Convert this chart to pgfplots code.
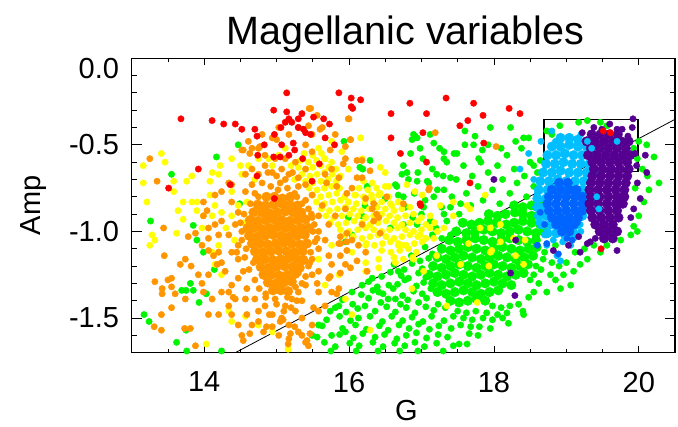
\documentclass[border=0pt]{standalone}
\usepackage{fontspec}
\setmainfont{Liberation Sans}
\usepackage{pgfplots}
\pgfplotsset{compat=1.18}
\definecolor{cred}{RGB}{255,0,0}
\definecolor{corange}{RGB}{255,150,0}
\definecolor{cyellow}{RGB}{255,255,0}
\definecolor{cgreen}{RGB}{0,245,0}
\definecolor{clblue}{RGB}{0,190,255}
\definecolor{cblue}{RGB}{0,100,255}
\definecolor{cpurple}{RGB}{85,0,145}
\pgfplotsset{
  dot/.style={only marks, mark=*, mark size=3.2bp, color=#1, mark options={draw=#1, fill=#1, line width=0.4bp}},
  core/.style={only marks, mark=*, mark size=4.8bp, color=#1, mark options={draw=#1, fill=#1, line width=0.4bp}},
}
\begin{document}
\begin{tikzpicture}
\begin{axis}[
  at={(0,0)}, anchor=south west,
  scale only axis, width=543.3bp, height=294.5bp,
  xmin=13, xmax=20.5, ymin=-1.7, ymax=0,
  axis line style={line width=1.1bp, black},
  xtick={14,16,18,20}, xticklabels={14,16,18,20},
  minor xtick={13,13.5,14.5,15,15.5,16.5,17,17.5,18.5,19,19.5,20.5},
  ytick={-1.5,-1,-0.5}, yticklabels={-1.5,-1.0,-0.5},
  minor ytick={-1.6,-1.4,-1.3,-1.2,-1.1,-0.9,-0.8,-0.7,-0.6,-0.4,-0.3,-0.2,-0.1},
  extra y ticks={0}, extra y tick labels={0.0},
  extra y tick style={yticklabel style={yshift=-10bp}},
  tick align=inside,
  xtick style={/pgfplots/major tick length=7bp,/pgfplots/minor tick length=3.5bp, line width=0.8bp, black},
  ytick style={/pgfplots/major tick length=10.5bp,/pgfplots/minor tick length=5.5bp, line width=0.8bp, black},
  tick label style={font=\fontsize{29bp}{34bp}\selectfont},
  xticklabel style={inner sep=0pt, anchor=north, yshift=-19bp},
  yticklabel style={inner sep=0pt, anchor=east, xshift=-12.5bp},
  title={Magellanic variables},
  title style={font=\fontsize{39.5bp}{44bp}\selectfont, at={(axis description cs:0.5,1)}, anchor=base, yshift=8bp, xshift=2bp},
  xlabel={G}, ylabel={Amp},
  xlabel style={font=\fontsize{29bp}{34bp}\selectfont, at={(axis description cs:0.5055,-0.195)}, anchor=center},
  ylabel style={font=\fontsize{29bp}{34bp}\selectfont, at={(axis description cs:-0.181,0.5)}, anchor=center},
]
% ---------------- green core
\addplot[core=cgreen] coordinates {
(18.28,-0.85) (18.40,-0.86) (18.52,-0.85) (18.63,-0.84)
(17.93,-0.90) (18.05,-0.91) (18.16,-0.90) (18.29,-0.89) (18.40,-0.90) (18.52,-0.91) (18.64,-0.90)
(17.57,-0.95) (17.69,-0.96) (17.80,-0.95) (17.92,-0.94) (18.04,-0.95) (18.17,-0.96) (18.28,-0.95) (18.40,-0.94) (18.52,-0.95) (18.64,-0.96)
(17.48,-1.00) (17.62,-1.01) (17.74,-1.00) (17.86,-0.99) (17.98,-1.00) (18.10,-1.01) (18.22,-1.00) (18.34,-0.99) (18.46,-1.00) (18.58,-1.01) (18.69,-1.00)
(17.38,-1.05) (17.50,-1.06) (17.62,-1.05) (17.74,-1.04) (17.86,-1.05) (17.98,-1.06) (18.10,-1.05) (18.22,-1.04) (18.34,-1.05) (18.46,-1.06) (18.58,-1.05)
(17.28,-1.10) (17.40,-1.11) (17.52,-1.10) (17.64,-1.09) (17.76,-1.10) (17.88,-1.11) (18.00,-1.10) (18.12,-1.09) (18.24,-1.10) (18.36,-1.11) (18.48,-1.10) (18.59,-1.09)
(17.22,-1.15) (17.34,-1.16) (17.46,-1.15) (17.58,-1.14) (17.70,-1.15) (17.82,-1.16) (17.94,-1.15) (18.06,-1.14) (18.18,-1.15) (18.30,-1.16) (18.42,-1.15) (18.54,-1.14)
(17.16,-1.20) (17.28,-1.21) (17.40,-1.20) (17.52,-1.19) (17.64,-1.20) (17.76,-1.21) (17.88,-1.20) (18.00,-1.19) (18.12,-1.20) (18.24,-1.21) (18.36,-1.20) (18.47,-1.19)
(17.10,-1.25) (17.22,-1.26) (17.34,-1.25) (17.46,-1.24) (17.58,-1.25) (17.70,-1.26) (17.82,-1.25) (17.94,-1.24) (18.06,-1.25) (18.18,-1.26) (18.30,-1.25) (18.41,-1.24)
(17.16,-1.30) (17.28,-1.31) (17.40,-1.30) (17.52,-1.29) (17.64,-1.30) (17.76,-1.31) (17.88,-1.30) (18.00,-1.29) (18.12,-1.30) (18.24,-1.31)
(17.22,-1.35) (17.34,-1.36) (17.46,-1.35) (17.58,-1.34) (17.70,-1.35) (17.82,-1.36) (17.94,-1.35) (18.06,-1.34)
(17.40,-1.40) (17.52,-1.41) (17.64,-1.40) (17.76,-1.39) (17.88,-1.40)
};
% ---------------- green scatter
\addplot[dot=cgreen] coordinates {
(13.17,-1.48) (13.24,-1.52) (13.26,-0.94) (13.55,-0.67) (13.62,-1.64) (13.69,-1.34) (13.75,-1.34) (13.75,-1.57) (13.76,-1.69) (13.81,-1.30)
(13.85,-0.965) (13.85,-1.34) (13.90,-1.05) (13.93,-1.41) (13.99,-1.12) (14.03,-1.36) (14.14,-1.22) (14.17,-0.57) (14.24,-1.69) (14.47,-0.50) (14.49,-0.84)
(15.49,-1.60) (15.58,-1.54) (15.74,-1.46) (15.76,-1.60) (15.86,-1.43) (15.95,-1.58) (16.13,-1.50) (16.22,-1.43) (16.04,-1.35) (16.18,-1.31)
(16.32,-1.27) (16.41,-1.35) (16.55,-1.31) (16.64,-1.39) (16.68,-1.23) (15.95,-1.06) (16.04,-1.02) (15.99,-0.92) (16.18,-0.91) (16.22,-0.85)
(16.36,-0.85) (16.50,-0.81) (16.64,-0.73) (16.68,-0.79) (16.73,-0.67) (15.93,-0.48) (16.19,-0.64) (16.29,-0.59) (16.15,-0.63) (16.25,-0.74)
(16.57,-0.98) (16.75,-0.96) (16.94,-0.96) (17.12,-0.94) (17.31,-0.90) (17.40,-0.86) (17.54,-0.84) (16.66,-0.74) (16.75,-0.80) (16.80,-0.66)
(16.94,-0.71) (17.08,-0.71) (17.21,-0.67) (17.40,-0.69) (17.31,-0.76) (17.17,-0.80) (17.03,-0.86) (16.87,-0.47) (16.91,-0.45) (17.17,-0.49)
(17.31,-0.54) (17.49,-0.55)
(17.05,-1.09) (17.15,-1.13)
(16.86,-1.14) (16.98,-1.17) (17.10,-1.155)
(16.62,-1.19) (16.76,-1.22) (16.87,-1.185) (17.01,-1.215)
(16.45,-1.26) (16.57,-1.235) (16.72,-1.255) (16.82,-1.27) (16.96,-1.24) (17.06,-1.265)
(16.27,-1.29) (16.39,-1.32) (16.67,-1.305) (16.77,-1.28) (16.93,-1.315) (17.03,-1.295)
(16.17,-1.365) (16.33,-1.34) (16.47,-1.36) (16.61,-1.33) (16.74,-1.37) (16.89,-1.345) (17.01,-1.36) (17.13,-1.33)
(15.91,-1.395) (16.05,-1.42) (16.27,-1.385) (16.44,-1.41) (16.54,-1.39) (16.71,-1.42) (16.81,-1.395) (16.96,-1.41) (17.07,-1.385) (17.23,-1.42)
(15.81,-1.44) (15.96,-1.465) (16.12,-1.445) (16.36,-1.46) (16.52,-1.435) (16.64,-1.465) (16.79,-1.44) (16.91,-1.47) (17.06,-1.435) (17.17,-1.455) (17.33,-1.44)
(15.69,-1.51) (15.87,-1.49) (16.02,-1.515) (16.29,-1.49) (16.46,-1.52) (16.59,-1.49) (16.74,-1.515) (16.87,-1.495) (17.02,-1.52) (17.14,-1.49) (17.31,-1.515) (17.44,-1.49)
(15.63,-1.545) (15.91,-1.56) (16.09,-1.54) (16.24,-1.565) (16.42,-1.545) (16.54,-1.57) (16.69,-1.54) (16.83,-1.56) (16.96,-1.535) (17.11,-1.565) (17.24,-1.545) (17.41,-1.56) (17.54,-1.54)
(15.56,-1.61) (15.87,-1.595) (16.06,-1.615) (16.19,-1.59) (16.36,-1.61) (16.49,-1.595) (16.66,-1.62) (16.79,-1.60) (16.93,-1.585) (17.07,-1.615) (17.23,-1.595) (17.36,-1.61) (17.66,-1.59)
(15.66,-1.64) (15.81,-1.665) (16.01,-1.645) (16.14,-1.66) (16.33,-1.64) (16.47,-1.665) (16.63,-1.645) (16.77,-1.66) (16.91,-1.64) (17.04,-1.665) (17.21,-1.645) (17.44,-1.66)
(15.75,-1.69) (16.10,-1.69) (16.40,-1.69) (16.70,-1.69) (16.95,-1.69) (17.30,-1.69)
(17.98,-1.43) (18.10,-1.44) (18.22,-1.43) (18.34,-1.42) (17.50,-1.46) (17.62,-1.47) (17.75,-1.46) (17.90,-1.47) (18.05,-1.48) (18.18,-1.47)
(18.40,-1.46) (17.58,-1.50) (17.70,-1.51) (17.85,-1.50) (17.98,-1.51) (18.12,-1.50) (17.68,-1.55) (17.80,-1.55) (17.95,-1.56) (18.20,-1.53)
(17.78,-1.60) (17.52,-1.65) (17.63,-1.65) (18.55,-1.35) (18.41,-1.48) (18.73,-1.35) (18.92,-1.33) (19.06,-1.31) (18.96,-1.25) (19.10,-1.23)
(19.19,-1.19) (19.29,-1.16) (19.47,-1.12) (19.56,-1.08) (19.75,-1.05) (19.89,-1.02) (19.93,-0.97) (20.00,-0.91) (20.07,-0.83) (20.14,-0.76)
(20.28,-0.72) (20.21,-0.57) (20.11,-0.50) (18.50,-1.28) (18.62,-1.30) (18.48,-1.38)
(18.70,-1.12) (18.80,-1.18) (18.90,-1.20) (18.78,-1.25) (18.65,-1.22) (18.85,-1.28) (19.00,-1.18) (19.12,-1.12) (19.25,-1.10) (19.38,-1.08)
(18.72,-1.02) (18.85,-1.08) (18.68,-1.16) (18.58,-1.20) (18.55,-1.25)
(20.00,-0.48) (19.93,-0.52) (19.98,-0.58) (20.05,-0.64) (19.95,-0.75) (20.12,-0.68) (19.98,-1.00)
(19.56,-0.39) (19.47,-0.37) (19.29,-0.36) (19.17,-0.37) (18.91,-0.39) (18.73,-0.42) (18.80,-0.44) (18.64,-0.59) (18.55,-0.62) (18.41,-0.46)
(18.23,-0.40) (17.74,-0.45) (17.72,-0.50) (17.84,-0.53) (17.79,-0.58) (17.31,-0.58) (16.94,-0.46) (16.89,-0.44) (17.95,-0.40) (17.60,-0.42)
(16.75,-0.62) (16.82,-0.70) (16.90,-0.78) (16.95,-0.66) (17.02,-0.58) (17.10,-0.72) (17.05,-0.82) (17.15,-0.64) (17.22,-0.76) (17.28,-0.86)
(17.30,-0.68) (17.35,-0.60) (17.42,-0.80) (17.48,-0.70) (17.52,-0.90) (17.58,-0.62) (17.62,-0.78) (17.68,-0.85) (17.70,-0.68) (17.78,-0.74)
(17.82,-0.60) (17.85,-0.82) (17.92,-0.66) (17.98,-0.76) (18.05,-0.62) (18.08,-0.84) (18.12,-0.70) (18.18,-0.56) (18.22,-0.78) (18.28,-0.64)
(18.32,-0.72) (18.38,-0.52) (18.42,-0.68) (18.45,-0.80) (18.50,-0.60) (18.55,-0.74) (18.60,-0.66) (18.48,-0.46) (18.30,-0.48) (18.10,-0.52)
(17.92,-0.50) (17.60,-0.50) (17.45,-0.55) (17.25,-0.52) (17.12,-0.44) (16.98,-0.52) (16.85,-0.55) (16.78,-0.86) (16.88,-0.92) (17.00,-0.90)
(17.20,-0.98) (17.35,-0.94) (17.40,-1.02) (17.28,-1.04) (17.15,-1.02)
};
% ---------------- yellow dense band
\addplot[dot=cyellow] coordinates {
(15.38,-0.55) (15.50,-0.56) (15.62,-0.55)
(15.33,-0.59) (15.44,-0.60) (15.55,-0.59) (15.66,-0.58) (15.76,-0.60)
(15.30,-0.63) (15.40,-0.64) (15.50,-0.63) (15.61,-0.62) (15.72,-0.63) (15.82,-0.64)
(15.35,-0.67) (15.46,-0.68) (15.56,-0.67) (15.66,-0.66) (15.77,-0.67) (15.88,-0.68)
(15.40,-0.71) (15.50,-0.72) (15.61,-0.71) (15.71,-0.70) (15.82,-0.71) (16.20,-0.71) (16.32,-0.72)
(15.45,-0.75) (15.56,-0.76) (15.66,-0.75) (15.76,-0.74) (15.87,-0.75) (16.14,-0.75) (16.26,-0.76) (16.38,-0.75) (16.50,-0.74)
(15.50,-0.79) (15.61,-0.80) (15.72,-0.79) (15.83,-0.78) (15.94,-0.80) (16.08,-0.79) (16.20,-0.80) (16.31,-0.79) (16.43,-0.78) (16.55,-0.80)
(15.55,-0.83) (15.66,-0.84) (15.77,-0.83) (15.88,-0.82) (15.99,-0.83) (16.10,-0.84) (16.22,-0.83) (16.33,-0.82) (16.45,-0.83) (16.57,-0.84) (16.68,-0.83)
(15.62,-0.87) (15.73,-0.88) (15.84,-0.87) (15.95,-0.86) (16.06,-0.87) (16.17,-0.88) (16.28,-0.87) (16.39,-0.86) (16.50,-0.87) (16.62,-0.88) (16.73,-0.87) (16.84,-0.86)
(15.68,-0.91) (15.79,-0.92) (15.90,-0.91) (16.01,-0.90) (16.12,-0.91) (16.23,-0.92) (16.34,-0.91) (16.45,-0.90) (16.56,-0.91) (16.67,-0.92) (16.78,-0.91) (16.89,-0.90) (17.00,-0.92) (17.12,-0.91)
(15.74,-0.95) (15.85,-0.96) (15.96,-0.95) (16.07,-0.94) (16.18,-0.95) (16.29,-0.96) (16.40,-0.95) (16.51,-0.94) (16.62,-0.95) (16.73,-0.96) (16.84,-0.95) (16.95,-0.94) (17.06,-0.96) (17.18,-0.95)
(15.88,-0.99) (16.00,-1.00) (16.12,-0.99) (16.23,-0.98) (16.34,-0.99) (16.45,-1.00) (16.56,-0.99) (16.67,-0.98) (16.78,-0.99) (16.89,-1.00) (17.00,-0.99) (17.12,-0.98) (17.22,-1.00)
(16.06,-1.03) (16.18,-1.04) (16.29,-1.03) (16.40,-1.02) (16.51,-1.03) (16.62,-1.04) (16.73,-1.03) (16.84,-1.02) (16.95,-1.03) (17.06,-1.04)
(16.24,-1.07) (16.35,-1.08) (16.46,-1.07) (16.57,-1.06) (16.68,-1.07) (16.79,-1.08) (16.90,-1.07) (17.01,-1.06)
(16.45,-1.11) (16.58,-1.12) (16.70,-1.11) (16.82,-1.10) (16.93,-1.12)
(16.62,-1.15) (16.75,-1.16) (16.88,-1.15)
};
% ---------------- yellow scatter
\addplot[dot=cyellow] coordinates {
(13.16,-0.62) (13.16,-0.72) (13.21,-0.83) (13.41,-0.55) (13.46,-0.60) (13.58,-0.71) (13.58,-0.77) (13.76,-0.71) (13.83,-0.68) (13.71,-0.83)
(13.83,-0.83) (13.90,-0.83) (13.64,-0.88) (13.71,-0.93) (13.28,-1.02) (13.32,-1.05) (13.25,-1.08) (13.62,-1.01) (13.97,-0.98) (13.90,-0.88)
(14.11,-0.66) (14.08,-0.71) (14.20,-0.67) (14.22,-0.62) (14.38,-0.58) (14.50,-0.62) (14.08,-0.79) (14.15,-0.85) (13.99,-0.91) (14.11,-0.91)
(14.24,-0.89) (14.38,-0.91) (14.47,-0.85) (14.59,-0.83) (14.38,-0.77) (14.52,-0.67) (14.61,-0.62) (14.75,-0.58) (14.89,-0.58) (15.03,-0.56)
(15.12,-0.52) (14.94,-0.62) (14.20,-1.08) (14.11,-1.12) (14.15,-1.19) (14.24,-1.25) (14.34,-1.46) (14.38,-1.52) (14.75,-1.54) (14.57,-1.49)
(14.94,-1.58) (16.29,-1.57) (14.03,-1.65) (16.16,-0.46) (16.18,-0.58) (16.43,-0.63) (16.55,-0.74) (16.50,-0.66) (16.09,-0.79) (16.41,-0.79)
(16.59,-0.85) (15.99,-0.64) (15.90,-0.54) (15.76,-0.48) (15.58,-0.52) (15.67,-0.58) (15.58,-1.16) (15.76,-1.08) (15.95,-1.02) (16.04,-1.12)
(16.23,-1.08) (16.23,-1.18) (16.41,-1.16) (16.68,-1.08) (15.86,-1.25) (15.67,-1.31) (16.23,-1.23) (16.41,-1.21) (16.64,-1.18) (15.95,-1.39)
(16.04,-1.48) (16.80,-0.73) (16.91,-0.77) (17.01,-0.79) (17.26,-0.85) (17.44,-0.83) (17.63,-0.85) (17.67,-0.87) (17.88,-0.79) (17.17,-1.04)
(17.31,-0.98) (17.44,-0.91) (17.65,-1.07) (17.81,-0.98) (17.95,-0.98) (18.09,-0.96) (17.97,-1.11) (18.09,-1.06) (18.30,-1.14) (18.43,-1.05)
(18.41,-1.19) (17.77,-1.41) (17.35,-1.43) (16.87,-1.33) (16.89,-1.16) (17.03,-1.23) (16.75,-1.08) (16.98,-1.02) (17.21,-1.14) (17.54,-1.19)
(17.93,-1.20) (17.95,-1.12) (18.27,-1.04) (14.70,-0.70) (15.20,-0.62) (15.25,-0.70) (14.30,-0.98) (14.42,-1.05) (14.55,-0.95) (15.16,-1.68)
};
% ---------------- orange core
\addplot[core=corange] coordinates {
(14.86,-0.80) (14.97,-0.80) (15.08,-0.81) (15.19,-0.80)
(14.74,-0.845) (14.85,-0.85) (14.96,-0.845) (15.07,-0.84) (15.18,-0.845) (15.29,-0.85)
(14.68,-0.89) (14.79,-0.89) (14.90,-0.895) (15.01,-0.89) (15.12,-0.885) (15.23,-0.89) (15.34,-0.89)
(14.63,-0.935) (14.74,-0.94) (14.85,-0.935) (14.96,-0.93) (15.07,-0.935) (15.18,-0.94) (15.29,-0.935) (15.40,-0.93)
(14.60,-0.98) (14.68,-0.98) (14.79,-0.985) (14.90,-0.98) (15.01,-0.975) (15.12,-0.98) (15.23,-0.985) (15.34,-0.98) (15.44,-0.98)
(14.62,-1.025) (14.73,-1.03) (14.84,-1.025) (14.95,-1.02) (15.06,-1.025) (15.17,-1.03) (15.28,-1.025) (15.39,-1.02)
(14.66,-1.07) (14.77,-1.07) (14.88,-1.075) (14.99,-1.07) (15.10,-1.065) (15.21,-1.07) (15.32,-1.075) (15.42,-1.07)
(14.70,-1.115) (14.81,-1.12) (14.92,-1.115) (15.03,-1.11) (15.14,-1.115) (15.25,-1.12) (15.36,-1.115)
(14.73,-1.16) (14.84,-1.16) (14.95,-1.165) (15.06,-1.16) (15.17,-1.155) (15.28,-1.16) (15.37,-1.165)
(14.78,-1.205) (14.89,-1.21) (15.00,-1.205) (15.11,-1.20) (15.22,-1.205) (15.32,-1.21)
(14.82,-1.25) (14.93,-1.25) (15.04,-1.255) (15.15,-1.25) (15.26,-1.245)
(14.88,-1.295) (14.99,-1.30) (15.10,-1.295) (15.21,-1.29)
(14.95,-1.34) (15.06,-1.34) (15.16,-1.345)
};
% ---------------- orange scatter
\addplot[dot=corange] coordinates {
(13.25,-0.58) (13.35,-0.71) (13.44,-0.98) (13.45,-1.14) (13.32,-1.29) (13.50,-1.28) (13.55,-1.27) (13.42,-1.33) (13.42,-1.36) (13.55,-1.32)
(13.60,-1.36) (13.55,-1.44) (13.41,-1.48) (13.31,-1.55) (13.41,-1.57) (13.67,-1.19) (13.74,-1.16) (13.82,-1.20) (13.74,-1.39) (13.73,-1.56)
(13.81,-1.56) (13.88,-1.66) (13.78,-1.03) (13.88,-1.01) (13.99,-0.83) (13.99,-0.91) (14.04,-0.88) (13.97,-1.08) (14.06,-1.11) (14.13,-1.14)
(14.20,-1.12) (14.18,-1.19) (14.24,-1.18) (14.29,-1.23) (13.92,-1.25) (13.97,-1.30) (14.06,-1.25) (13.99,-1.35) (14.11,-1.39) (14.06,-1.48)
(14.20,-1.48) (14.24,-1.35) (14.34,-1.35) (14.34,-1.43) (14.38,-1.31) (14.43,-1.39) (14.38,-1.48) (14.47,-1.54) (14.52,-1.60) (14.66,-1.54)
(14.59,-1.48) (14.75,-1.52) (14.82,-1.58) (14.94,-1.55) (15.03,-1.60) (15.17,-1.54) (15.17,-1.62) (15.30,-1.58) (15.40,-1.64) (15.44,-1.66)
(15.35,-1.50) (15.49,-1.54) (15.58,-1.46) (15.67,-1.43) (15.58,-1.35) (15.76,-1.35) (15.86,-1.33) (15.72,-1.27) (15.58,-1.23) (15.76,-1.19)
(15.95,-1.19) (15.88,-1.14) (15.72,-1.14) (15.58,-1.10) (15.67,-1.05) (15.86,-1.07) (16.04,-1.05) (16.13,-1.08) (16.23,-1.12) (15.58,-1.00)
(15.72,-0.96) (15.81,-0.91) (15.95,-0.87) (15.58,-0.91) (15.63,-0.85) (15.49,-0.79) (15.40,-0.73) (15.30,-0.69) (15.40,-0.64) (15.26,-0.60)
(15.12,-0.58) (14.98,-0.58) (14.84,-0.56) (14.75,-0.52) (14.66,-0.52) (14.61,-0.48) (14.52,-0.53) (14.80,-0.44) (14.94,-0.46) (15.03,-0.40)
(15.17,-0.44) (15.30,-0.40) (15.44,-0.39) (15.49,-0.44) (15.40,-0.50) (15.49,-0.54) (15.47,-0.29) (15.56,-0.33) (15.63,-0.40) (15.81,-0.44)
(16.00,-0.35) (16.02,-0.47) (15.95,-0.58) (15.76,-0.64) (15.67,-0.67) (15.86,-0.69) (16.04,-0.75) (16.18,-0.69) (16.23,-0.81) (16.32,-0.87)
(16.41,-0.92) (16.18,-0.96) (14.38,-0.73) (14.34,-0.72) (14.24,-0.77) (14.38,-0.83) (14.47,-0.89) (14.24,-0.94) (14.15,-0.96) (14.06,-0.98)
(14.20,-1.02) (14.34,-1.02) (14.43,-0.96) (14.52,-1.00) (14.47,-1.08) (14.38,-1.12) (14.47,-1.16) (14.54,-1.23) (14.47,-1.27) (14.59,-1.33)
(14.57,-1.39) (14.70,-1.39) (14.84,-1.43) (14.98,-1.39) (15.12,-1.43) (15.21,-1.39) (15.30,-1.35) (15.40,-1.31) (15.49,-1.25) (15.49,-1.16)
(15.53,-1.06) (15.49,-0.92) (15.44,-0.87) (14.75,-1.46) (14.94,-1.48) (15.07,-1.50) (15.26,-1.46) (14.57,-0.77) (14.66,-0.73) (14.75,-0.67)
(14.94,-0.66) (15.07,-0.64) (15.17,-0.67) (14.84,-0.62) (14.66,-0.64) (14.57,-0.67) (14.15,-0.79) (14.06,-1.04)
(15.74,-1.26) (15.83,-1.36) (15.56,-1.30) (15.51,-1.44) (15.46,-1.59) (15.42,-1.63) (15.35,-1.60) (15.19,-1.59) (15.16,-1.65) (15.09,-1.51)
(15.28,-1.40) (15.88,-1.24) (16.02,-1.21) (16.11,-1.17) (15.97,-1.11) (16.25,-1.23) (16.34,-0.94) (16.43,-1.01) (15.97,-1.01) (15.88,-1.07)
(14.54,-1.63) (14.63,-1.59) (14.86,-1.55) (14.40,-1.38)
(15.45,-0.29) (15.99,-0.35) (15.60,-0.41) (16.02,-0.47) (15.95,-0.51) (16.11,-0.59) (16.18,-0.59) (15.74,-0.53) (15.92,-0.61) (16.29,-0.65)
(16.11,-0.69) (16.34,-0.84) (15.97,-0.78) (15.69,-0.72) (15.83,-0.74) (16.38,-0.90) (16.52,-0.80) (16.75,-0.84) (17.11,-0.75) (17.19,-0.43)
(15.88,-1.03) (15.97,-1.06) (14.54,-0.53) (14.63,-0.55) (14.77,-0.51) (15.00,-0.47) (18.03,-0.51) (17.10,-0.76)
(14.80,-0.72) (14.92,-0.74) (15.05,-0.72) (15.15,-0.75) (15.25,-0.78) (14.70,-0.78) (14.88,-0.66) (15.00,-0.68) (15.12,-0.70) (15.22,-0.66)
(15.30,-0.74) (15.00,-1.42) (15.10,-1.46) (15.20,-1.44) (15.05,-1.52) (15.25,-1.55) (14.90,-1.48) (15.35,-1.40) (15.15,-1.38) (14.85,-1.38)
(14.55,-0.90) (14.52,-1.05) (14.56,-1.15) (14.62,-1.22) (14.70,-1.28) (14.76,-1.33) (14.85,-1.36) (15.48,-0.90) (15.50,-1.00) (15.47,-1.12)
(15.44,-1.20) (15.40,-1.26) (15.35,-1.30) (14.75,-0.80) (15.28,-0.80) (15.35,-0.84) (14.50,-0.95) (14.58,-1.10) (15.52,-0.96) (15.46,-1.18)
(14.64,-0.84) (15.40,-0.82) (14.68,-1.18) (15.30,-1.24) (15.02,-0.76) (14.92,-1.30) (15.26,-1.32) (14.45,-1.12) (15.56,-1.04) (14.80,-1.25)
};
% ---------------- light blue
\addplot[core=clblue] coordinates {
(18.92,-0.46) (19.04,-0.46) (19.16,-0.47)
(18.80,-0.51) (18.92,-0.51) (19.04,-0.50) (19.16,-0.51) (19.28,-0.51)
(18.74,-0.56) (18.86,-0.56) (18.98,-0.55) (19.10,-0.56) (19.22,-0.56) (19.34,-0.56)
(18.72,-0.61) (18.84,-0.61) (18.96,-0.60) (19.08,-0.61) (19.20,-0.61) (19.32,-0.61)
(18.68,-0.66) (18.80,-0.66) (18.92,-0.65) (19.04,-0.66) (19.16,-0.66) (19.28,-0.66) (19.38,-0.66)
(18.64,-0.71) (18.76,-0.71) (18.88,-0.70) (19.00,-0.71) (19.12,-0.71) (19.24,-0.71) (19.34,-0.71)
(18.62,-0.76) (18.74,-0.76) (18.86,-0.75) (18.98,-0.76) (19.10,-0.76) (19.22,-0.76) (19.32,-0.76)
(18.60,-0.81) (18.72,-0.81) (19.26,-0.81) (19.34,-0.81)
(18.60,-0.86) (18.70,-0.86) (19.28,-0.86)
(18.62,-0.91) (18.72,-0.91) (19.22,-0.91)
(18.66,-0.96) (18.78,-0.96) (18.90,-0.97) (19.02,-0.96) (19.14,-0.96)
(18.74,-1.01) (18.86,-1.01) (18.98,-1.02) (19.10,-1.01)
};
\addplot[dot=clblue] coordinates {
(18.36,-0.64) (18.48,-0.55) (18.73,-1.08) (18.87,-1.14) (18.92,-1.17) (19.06,-1.08) (19.19,-0.96) (18.55,-0.70) (18.60,-0.78) (18.58,-0.86)
(18.62,-0.95) (18.70,-1.02) (18.82,-1.05) (18.95,-1.06) (19.10,-1.04) (19.20,-1.00) (18.80,-0.42) (18.85,-0.48) (19.20,-0.44) (18.65,-0.48)
};
% ---------------- blue
\addplot[core=cblue] coordinates {
(18.90,-0.72) (19.02,-0.72)
(18.80,-0.76) (18.92,-0.76) (19.04,-0.76) (19.14,-0.76)
(18.76,-0.80) (18.88,-0.80) (19.00,-0.80) (19.12,-0.80) (19.22,-0.80)
(18.74,-0.84) (18.86,-0.84) (18.98,-0.84) (19.10,-0.84) (19.22,-0.84)
(18.76,-0.88) (18.88,-0.88) (19.00,-0.88) (19.12,-0.88) (19.22,-0.88)
(18.80,-0.92) (18.92,-0.92) (19.04,-0.92) (19.16,-0.92)
(18.86,-0.96) (18.98,-0.96) (19.10,-0.96)
(18.94,-1.00) (19.04,-1.00)
};
\addplot[dot=cblue] coordinates {
(18.64,-0.89) (18.60,-1.08) (19.01,-1.04) (19.08,-1.05) (19.15,-0.95) (18.73,-1.07) (18.89,-1.13) (18.70,-0.96)
};
% ---------------- purple
\addplot[core=cpurple] coordinates {
(19.35,-0.44) (19.47,-0.44) (19.59,-0.44) (19.71,-0.44)
(19.28,-0.48) (19.40,-0.48) (19.52,-0.48) (19.64,-0.48) (19.76,-0.48) (19.86,-0.48)
(19.34,-0.52) (19.46,-0.52) (19.58,-0.52) (19.70,-0.52) (19.82,-0.52)
(19.30,-0.56) (19.42,-0.56) (19.54,-0.56) (19.66,-0.56) (19.78,-0.56) (19.88,-0.56)
(19.36,-0.60) (19.48,-0.60) (19.60,-0.60) (19.72,-0.60) (19.84,-0.60)
(19.38,-0.64) (19.50,-0.64) (19.62,-0.64) (19.74,-0.64) (19.86,-0.64)
(19.36,-0.68) (19.48,-0.68) (19.60,-0.68) (19.72,-0.68) (19.84,-0.68)
(19.34,-0.72) (19.46,-0.72) (19.58,-0.72) (19.70,-0.72) (19.82,-0.72)
(19.32,-0.76) (19.44,-0.76) (19.56,-0.76) (19.68,-0.76) (19.80,-0.76)
(19.34,-0.80) (19.46,-0.80) (19.58,-0.80) (19.70,-0.80) (19.80,-0.80)
(19.32,-0.84) (19.44,-0.84) (19.56,-0.84) (19.68,-0.84) (19.78,-0.84)
(19.34,-0.88) (19.46,-0.88) (19.58,-0.88) (19.70,-0.88)
(19.36,-0.92) (19.48,-0.92) (19.60,-0.92) (19.72,-0.92)
(19.40,-0.96) (19.52,-0.96) (19.64,-0.96)
(19.46,-1.00) (19.58,-1.00) (19.70,-1.00)
(19.52,-1.04) (19.64,-1.04)
};
\addplot[dot=cpurple] coordinates {
(19.22,-0.43) (19.38,-0.40) (19.49,-0.41) (19.70,-0.41) (19.77,-0.41) (19.91,-0.40) (19.92,-0.35) (20.09,-0.56) (20.11,-0.66) (19.98,-0.72)
(20.02,-0.81) (19.93,-0.87) (19.89,-0.92) (19.70,-1.11) (19.33,-1.06) (19.19,-1.12) (18.82,-1.11) (19.03,-1.08) (18.30,-1.05) (18.29,-1.37)
(18.00,-0.70) (18.23,-1.24) (19.17,-1.03) (19.29,-1.07) (19.40,-1.04) (19.95,-0.55) (19.97,-0.62) (19.85,-0.45) (19.60,-0.38)
};
\addplot[dot=clblue] coordinates {
(19.42,-0.80) (19.45,-0.87) (19.70,-0.48) (19.35,-0.52) (19.29,-0.48)
};
% ---------------- red
\addplot[dot=cred] coordinates {
(13.68,-0.35) (14.11,-0.36) (14.27,-0.38) (14.43,-0.38) (14.52,-0.41) (14.70,-0.41) (14.73,-0.45) (13.92,-0.64) (13.51,-0.75) (15.14,-0.20)
(14.96,-0.30) (15.14,-0.31) (15.17,-0.35) (15.12,-0.37) (15.21,-0.37) (15.30,-0.35) (15.35,-0.32) (15.51,-0.34) (15.65,-0.35) (15.73,-0.38)
(15.30,-0.40) (15.37,-0.41) (15.40,-0.43) (15.06,-0.40) (14.97,-0.44) (15.07,-0.50) (15.23,-0.49) (15.25,-0.53) (15.17,-0.56) (15.05,-0.57)
(14.96,-0.57) (14.83,-0.50) (14.74,-0.56) (15.36,-0.58) (15.67,-0.46) (15.80,-0.50) (15.86,-0.20) (16.03,-0.23) (16.16,-0.24) (16.03,-0.28)
(16.05,-0.29) (15.59,-0.61) (15.49,-0.71) (14.73,-0.68) (14.97,-0.81) (16.58,-0.32) (16.58,-0.46) (16.71,-0.55) (15.47,-0.44) (14.36,-0.73)
(16.84,-0.26) (17.34,-0.23) (17.07,-0.32) (17.02,-0.43) (17.07,-0.60) (17.72,-0.26) (17.64,-0.36) (17.53,-0.39) (17.85,-0.33) (18.21,-0.29)
(18.36,-0.32) (17.86,-0.49) (17.67,-0.72) (16.99,-0.85) (19.48,-1.10) (19.51,-0.42) (19.61,-0.43) (16.98,-0.84)
};
% ---------------- fitted line and box
\addplot[black, line width=0.8bp] coordinates {(14.43,-1.70) (20.5,-0.353)};
\addplot[black, line width=1.3bp] coordinates {(18.69,-0.353) (19.99,-0.353) (19.99,-0.655) (18.69,-0.655) (18.69,-0.353)};
\end{axis}
\pgfresetboundingbox
\path[use as bounding box] (-131.7bp,-74.3bp) rectangle (546.3bp,352.7bp);
\end{tikzpicture}
\end{document}
